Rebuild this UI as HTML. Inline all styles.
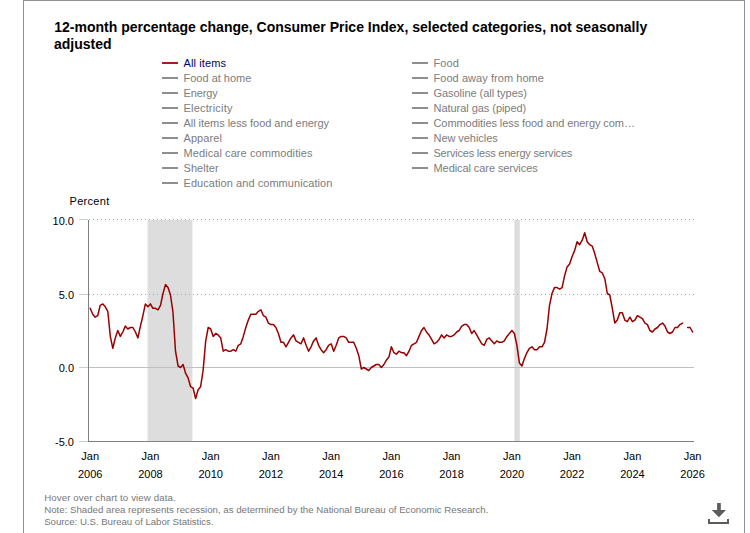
<!DOCTYPE html>
<html><head><meta charset="utf-8"><style>
html,body{margin:0;padding:0;background:#fff;}
body{width:750px;height:533px;overflow:hidden;position:relative;font-family:"Liberation Sans",sans-serif;}
.frame{position:absolute;left:23px;top:0;width:720px;height:600px;border:1px solid #919191;}
.title{position:absolute;left:55px;top:19px;width:640px;font-weight:bold;font-size:14px;line-height:16px;color:#000;}
svg{position:absolute;left:0;top:0;}
.foot{position:absolute;left:44px;top:492px;font-size:9.7px;line-height:12px;color:#777;}
</style></head><body>
<div class="frame"></div>
<div class="title" style="left:54.3px">12-month percentage change, Consumer Price Index, selected categories, not seasonally</div><div class="title" style="top:36px;left:54px">adjusted</div>
<svg width="750" height="533" viewBox="0 0 750 533" font-family="Liberation Sans, sans-serif" font-size="11">
<rect x="147.5" y="220" width="44.9" height="221" fill="#ddd"/>
<rect x="514.4" y="220" width="5.4" height="221" fill="#ddd"/>
<line x1="89" y1="219.5" x2="694" y2="219.5" stroke="#aaa" stroke-width="1" stroke-dasharray="1,3"/>
<line x1="89" y1="294.5" x2="694" y2="294.5" stroke="#aaa" stroke-width="1" stroke-dasharray="1,3"/>
<line x1="89" y1="367.5" x2="694" y2="367.5" stroke="#c0c0c0" stroke-width="1"/>
<line x1="88.5" y1="220" x2="88.5" y2="442" stroke="#808080" stroke-width="1"/>
<line x1="88" y1="441.5" x2="694" y2="441.5" stroke="#808080" stroke-width="1"/>
<line x1="79" y1="219.5" x2="88" y2="219.5" stroke="#C0D0E0" stroke-width="1"/>
<line x1="79" y1="294.5" x2="88" y2="294.5" stroke="#C0D0E0" stroke-width="1"/>
<line x1="79" y1="367.5" x2="88" y2="367.5" stroke="#C0D0E0" stroke-width="1"/>
<line x1="79" y1="441.5" x2="88" y2="441.5" stroke="#C0D0E0" stroke-width="1"/>

<path d="M90.2 308.3 L92.7 314.2 L95.2 317.2 L97.7 315.7 L100.2 305.3 L102.8 303.9 L105.3 306.8 L107.8 311.3 L110.3 336.4 L112.8 348.3 L115.3 337.9 L117.8 330.5 L120.3 336.4 L122.8 332.0 L125.3 326.1 L127.8 329.0 L130.4 327.5 L132.9 327.5 L135.4 332.0 L137.9 337.9 L140.4 326.1 L142.9 315.7 L145.4 303.9 L147.9 306.8 L150.4 303.9 L152.9 308.3 L155.5 308.3 L158.0 309.8 L160.5 305.3 L163.0 293.5 L165.5 284.6 L168.0 287.6 L170.5 295.0 L173.0 312.7 L175.5 351.2 L178.1 366.0 L180.6 367.5 L183.1 364.5 L185.6 373.4 L188.1 377.9 L190.6 386.7 L193.1 388.2 L195.6 398.6 L198.1 389.7 L200.6 386.7 L203.1 370.5 L205.7 340.9 L208.2 327.5 L210.7 329.0 L213.2 336.4 L215.7 333.5 L218.2 334.9 L220.7 337.9 L223.2 351.2 L225.7 349.7 L228.2 351.2 L230.8 351.2 L233.3 349.7 L235.8 351.2 L238.3 345.3 L240.8 343.8 L243.3 336.4 L245.8 327.5 L248.3 320.1 L250.8 314.2 L253.3 314.2 L255.9 314.2 L258.4 311.3 L260.9 309.8 L263.4 315.7 L265.9 317.2 L268.4 323.1 L270.9 324.6 L273.4 324.6 L275.9 327.5 L278.4 333.5 L281.0 342.3 L283.5 342.3 L286.0 346.8 L288.5 342.3 L291.0 337.9 L293.5 334.9 L296.0 340.9 L298.5 342.3 L301.0 343.8 L303.6 337.9 L306.1 345.3 L308.6 351.2 L311.1 346.8 L313.6 340.9 L316.1 337.9 L318.6 345.3 L321.1 349.7 L323.6 352.7 L326.1 349.7 L328.6 345.3 L331.2 343.8 L333.7 351.2 L336.2 345.3 L338.7 337.9 L341.2 336.4 L343.7 336.4 L346.2 337.9 L348.7 342.3 L351.2 342.3 L353.7 342.3 L356.3 348.3 L358.8 355.7 L361.3 369.0 L363.8 367.5 L366.3 369.0 L368.8 370.5 L371.3 367.5 L373.8 366.0 L376.3 364.5 L378.8 364.5 L381.4 367.5 L383.9 364.5 L386.4 360.1 L388.9 357.1 L391.4 346.8 L393.9 352.7 L396.4 354.2 L398.9 351.2 L401.4 352.7 L403.9 352.7 L406.5 355.7 L409.0 351.2 L411.5 345.3 L414.0 343.8 L416.5 342.3 L419.0 336.4 L421.5 330.5 L424.0 327.5 L426.5 332.0 L429.0 334.9 L431.6 339.4 L434.1 343.8 L436.6 342.3 L439.1 339.4 L441.6 334.9 L444.1 337.9 L446.6 334.9 L449.1 336.4 L451.6 336.4 L454.1 334.9 L456.7 332.0 L459.2 330.5 L461.7 326.1 L464.2 324.6 L466.7 324.6 L469.2 327.5 L471.7 333.5 L474.2 330.5 L476.7 334.9 L479.2 339.4 L481.8 343.8 L484.3 345.3 L486.8 339.4 L489.3 337.9 L491.8 340.9 L494.3 343.8 L496.8 340.9 L499.3 342.3 L501.8 342.3 L504.3 340.9 L506.9 336.4 L509.4 333.5 L511.9 330.5 L514.4 333.5 L516.9 345.3 L519.4 363.1 L521.9 366.0 L524.4 358.6 L526.9 352.7 L529.4 348.3 L532.0 346.8 L534.5 349.7 L537.0 349.7 L539.5 346.8 L542.0 346.8 L544.5 342.3 L547.0 329.0 L549.5 305.3 L552.0 293.5 L554.5 287.6 L557.1 287.6 L559.6 289.1 L562.1 287.6 L564.6 275.7 L567.1 266.9 L569.6 263.9 L572.1 256.5 L574.6 250.6 L577.1 241.7 L579.6 244.7 L582.2 240.2 L584.7 232.8 L587.2 241.7 L589.7 244.7 L592.2 246.1 L594.7 253.5 L597.2 262.4 L599.7 271.3 L602.2 272.8 L604.8 278.7 L607.3 293.5 L609.8 295.0 L612.3 308.3 L614.8 323.1 L617.3 320.1 L619.8 312.7 L622.3 312.7 L624.8 320.1 L627.3 321.6 L629.9 317.2 L632.4 321.6 L634.9 320.1 L637.4 315.7 L639.9 317.2 L642.4 318.7 L644.9 323.1 L647.4 324.6 L649.9 330.5 L652.4 332.0 L655.0 329.0 L657.5 327.5 L660.0 324.6 L662.5 323.1 L665.0 326.1 L667.5 332.0 L670.0 333.5 L672.5 332.0 L675.0 327.5 L677.5 327.5 L680.0 324.6 L682.6 323.1 M687.6 327.5 L690.1 327.5 L692.6 332.0" fill="none" stroke="#990000" stroke-width="1.5" stroke-linejoin="round" stroke-linecap="round"/>
<g fill="#000"><text x="74" y="225.3" text-anchor="end">10.0</text>
<text x="74" y="299.3" text-anchor="end">5.0</text>
<text x="74" y="372.3" text-anchor="end">0.0</text>
<text x="74" y="446.3" text-anchor="end">-5.0</text>
<text x="90.2" y="460" text-anchor="middle">Jan</text><text x="90.2" y="477.5" text-anchor="middle">2006</text>
<text x="150.4" y="460" text-anchor="middle">Jan</text><text x="150.4" y="477.5" text-anchor="middle">2008</text>
<text x="210.7" y="460" text-anchor="middle">Jan</text><text x="210.7" y="477.5" text-anchor="middle">2010</text>
<text x="270.9" y="460" text-anchor="middle">Jan</text><text x="270.9" y="477.5" text-anchor="middle">2012</text>
<text x="331.2" y="460" text-anchor="middle">Jan</text><text x="331.2" y="477.5" text-anchor="middle">2014</text>
<text x="391.4" y="460" text-anchor="middle">Jan</text><text x="391.4" y="477.5" text-anchor="middle">2016</text>
<text x="451.6" y="460" text-anchor="middle">Jan</text><text x="451.6" y="477.5" text-anchor="middle">2018</text>
<text x="511.9" y="460" text-anchor="middle">Jan</text><text x="511.9" y="477.5" text-anchor="middle">2020</text>
<text x="572.1" y="460" text-anchor="middle">Jan</text><text x="572.1" y="477.5" text-anchor="middle">2022</text>
<text x="632.4" y="460" text-anchor="middle">Jan</text><text x="632.4" y="477.5" text-anchor="middle">2024</text>
<text x="692.6" y="460" text-anchor="middle">Jan</text><text x="692.6" y="477.5" text-anchor="middle">2026</text>
</g>
<text x="69.5" y="205" fill="#000" letter-spacing="0.3">Percent</text>
<g font-size="11"><rect x="162" y="62" width="16" height="2" fill="#a31e1e"/><text x="183.5" y="67" fill="#000075" textLength="42.4" lengthAdjust="spacing">All items</text>
<rect x="162" y="77" width="16" height="2" fill="#8e8e8e"/><text x="183.5" y="82" fill="#7c7c7c" textLength="67.9" lengthAdjust="spacing">Food at home</text>
<rect x="162" y="92" width="16" height="2" fill="#8e8e8e"/><text x="183.5" y="97" fill="#7c7c7c" textLength="34.15" lengthAdjust="spacing">Energy</text>
<rect x="162" y="107" width="16" height="2" fill="#8e8e8e"/><text x="183.5" y="112" fill="#7c7c7c" textLength="48.9" lengthAdjust="spacing">Electricity</text>
<rect x="162" y="122" width="16" height="2" fill="#8e8e8e"/><text x="183.5" y="127" fill="#7c7c7c" textLength="145.5" lengthAdjust="spacing">All items less food and energy</text>
<rect x="162" y="137" width="16" height="2" fill="#8e8e8e"/><text x="183.5" y="142" fill="#7c7c7c" textLength="38.4" lengthAdjust="spacing">Apparel</text>
<rect x="162" y="152" width="16" height="2" fill="#8e8e8e"/><text x="183.5" y="157" fill="#7c7c7c" textLength="129.0" lengthAdjust="spacing">Medical care commodities</text>
<rect x="162" y="167" width="16" height="2" fill="#8e8e8e"/><text x="183.5" y="172" fill="#7c7c7c" textLength="35.15" lengthAdjust="spacing">Shelter</text>
<rect x="162" y="182" width="16" height="2" fill="#8e8e8e"/><text x="183.5" y="187" fill="#7c7c7c" textLength="148.8" lengthAdjust="spacing">Education and communication</text>
<rect x="412" y="62" width="16" height="2" fill="#8e8e8e"/><text x="433.5" y="67" fill="#7c7c7c" textLength="25.3" lengthAdjust="spacing">Food</text>
<rect x="412" y="77" width="16" height="2" fill="#8e8e8e"/><text x="433.5" y="82" fill="#7c7c7c" textLength="110.4" lengthAdjust="spacing">Food away from home</text>
<rect x="412" y="92" width="16" height="2" fill="#8e8e8e"/><text x="433.5" y="97" fill="#7c7c7c" textLength="93.35" lengthAdjust="spacing">Gasoline (all types)</text>
<rect x="412" y="107" width="16" height="2" fill="#8e8e8e"/><text x="433.5" y="112" fill="#7c7c7c" textLength="92.75" lengthAdjust="spacing">Natural gas (piped)</text>
<rect x="412" y="122" width="16" height="2" fill="#8e8e8e"/><text x="433.5" y="127" fill="#7c7c7c" textLength="201.4" lengthAdjust="spacing">Commodities less food and energy com…</text>
<rect x="412" y="137" width="16" height="2" fill="#8e8e8e"/><text x="433.5" y="142" fill="#7c7c7c" textLength="64.2" lengthAdjust="spacing">New vehicles</text>
<rect x="412" y="152" width="16" height="2" fill="#8e8e8e"/><text x="433.5" y="157" fill="#7c7c7c" textLength="138.8" lengthAdjust="spacing">Services less energy services</text>
<rect x="412" y="167" width="16" height="2" fill="#8e8e8e"/><text x="433.5" y="172" fill="#7c7c7c" textLength="104.2" lengthAdjust="spacing">Medical care services</text>
</g>
<g fill="#5c5c5c"><rect x="717.1" y="503" width="3.7" height="7.5"/><polygon points="711.8,510 726,510 718.9,517.2"/><rect x="708" y="522" width="21" height="2"/><rect x="708" y="519" width="2" height="5"/><rect x="727" y="519" width="2" height="5"/></g>
<g fill="#777" font-size="9.7"><text x="44.2" y="500.8" textLength="131.4" lengthAdjust="spacing">Hover over chart to view data.</text><text x="44.2" y="512.6" textLength="444.2" lengthAdjust="spacing">Note: Shaded area represents recession, as determined by the National Bureau of Economic Research.</text><text x="44.2" y="524.5" textLength="169.4" lengthAdjust="spacing">Source: U.S. Bureau of Labor Statistics.</text></g>
</svg>

</body></html>
